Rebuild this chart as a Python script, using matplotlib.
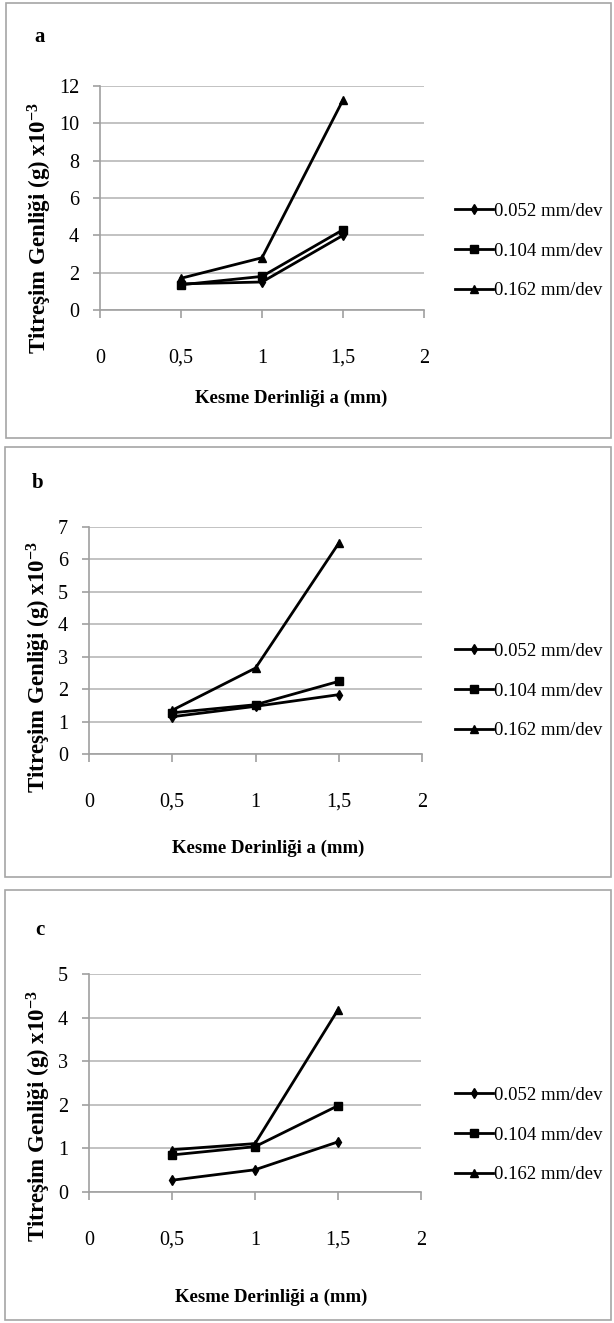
import numpy as np
import matplotlib
matplotlib.use('Agg')
import matplotlib.pyplot as plt
from matplotlib.patches import Rectangle

plt.rcParams['font.family'] = ['Liberation Serif', 'DejaVu Serif']
plt.rcParams['mathtext.default'] = 'regular'

# data
depth = [0.5, 1.0, 1.5]
feeds = ['0.052 mm/dev', '0.104 mm/dev', '0.162 mm/dev']
markers = ['d', 's', '^']

amp_a = [[1.4, 1.5, 4.0],
         [1.35, 1.8, 4.3],
         [1.7, 2.8, 11.25]]
amp_b = [[1.15, 1.47, 1.83],
         [1.27, 1.52, 2.24],
         [1.35, 2.65, 6.5]]
amp_c = [[0.27, 0.51, 1.15],
         [0.85, 1.04, 1.98],
         [0.97, 1.11, 4.18]]

panel_letters = ['a', 'b', 'c']
ymax = [12, 7, 5]
ystep = [2, 1, 1]

W, H = 614, 1323
fig = plt.figure(figsize=(W/100., H/100.), dpi=100)

def fx(px):
    return px/float(W)
def fy(py):
    return 1 - py/float(H)

#=========================================================================================
# pixel layout of each panel: box, axes, letter, labels, legend
boxes = [(6, 3, 611, 438), (5, 447, 611, 877), (5, 890, 611, 1320)]
axbox = [(100, 86, 424, 310), (89, 527, 422, 754), (89, 974, 421, 1192)]
letter_pos = [(40, 37), (38, 483), (40, 930)]
xlab_pos = [(291, 398), (268, 848), (271, 1297)]
ylab_pos = [(40, 228), (39, 667), (39, 1116)]
leg_y = [251, 691, 1135]
msizes = {'d': 5.5, 's': 5.5, '^': 5.5}

for k, amps in enumerate([amp_a, amp_b, amp_c]):
    x0, y0, x1, y1 = boxes[k]
    fig.patches.append(Rectangle((fx(x0), fy(y1)), fx(x1) - fx(x0), fy(y0) - fy(y1),
                                 transform=fig.transFigure, fill=False,
                                 edgecolor='#a6a6a6', linewidth=1.2))

    l, t, r, b = axbox[k]
    ax = fig.add_axes([fx(l), fy(b), fx(r) - fx(l), fy(t) - fy(b)])
    for i in range(3):
        ax.plot(depth, amps[i], color='black', linewidth=2.0, marker=markers[i],
                markersize=msizes[markers[i]], label=feeds[i], clip_on=False, zorder=3)

    ax.set_xlim(0, 2)
    ax.set_ylim(0, ymax[k])
    ax.set_xticks([0, 0.5, 1, 1.5, 2])
    ax.set_xticklabels(['0', '0,5', '1', '1,5', '2'])
    ax.set_yticks(np.arange(0, ymax[k] + 0.01, ystep[k]))
    ax.yaxis.grid(True, color='#bdbdbd', linewidth=1.3)
    ax.set_axisbelow(True)
    for s in ['top', 'right']:
        ax.spines[s].set_visible(False)
    for s in ['left', 'bottom']:
        ax.spines[s].set_color('#a0a0a0')
        ax.spines[s].set_linewidth(1.2)
    ax.tick_params(axis='x', direction='out', length=6, width=1.2, color='#a0a0a0',
                   pad=22, labelsize=14.5)
    ax.tick_params(axis='y', direction='out', length=5, width=1.2, color='#a0a0a0',
                   pad=10, labelsize=14.5)

    ax.legend(loc='center left', bbox_to_anchor=(fx(455), fy(leg_y[k])),
              bbox_transform=fig.transFigure, frameon=False, fontsize=13.5,
              handlelength=2.0, handletextpad=0.1, labelspacing=1.2,
              borderpad=0, borderaxespad=0)

    fig.text(fx(letter_pos[k][0]), fy(letter_pos[k][1]), panel_letters[k],
             fontsize=15, fontweight='bold', ha='center', va='center')
    fig.text(fx(xlab_pos[k][0]), fy(xlab_pos[k][1]), 'Kesme Derinliği a (mm)',
             fontsize=13.5, fontweight='bold', ha='center', va='center')
    fig.text(fx(ylab_pos[k][0]), fy(ylab_pos[k][1]), 'Titreşim Genliği (g) x10$^{-3}$',
             fontsize=16.5, fontweight='bold', ha='center', va='center', rotation=90)

plt.savefig('out.png', dpi=100)
